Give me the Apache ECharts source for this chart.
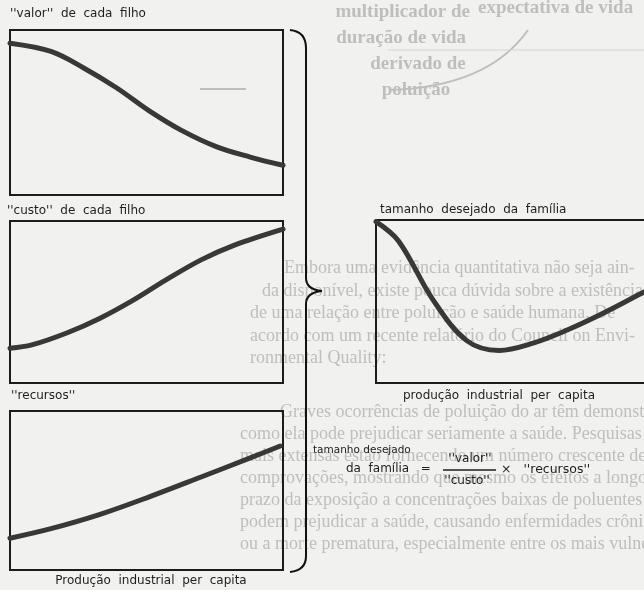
<!DOCTYPE html>
<html>
<head>
<meta charset="utf-8">
<script src="https://cdn.jsdelivr.net/npm/echarts@6/dist/echarts.min.js"></script>
<style>
  html, body { margin: 0; padding: 0; background: #f1f1ef; overflow: hidden; }
  #chart { width: 720px; height: 590px; }
</style>
</head>
<body>
<div id="chart"></div>
<script>
// Industrial output per capita (0–100, relative) sampled along each curve
const xValor = [0, 15, 27, 39, 51, 63, 76, 88, 100];
const valor = [92, 87, 77, 65, 51, 39, 29, 23, 18];

const xCusto = [0, 8, 21, 33, 45, 57, 70, 82, 100];
const custo = [21.5, 23.5, 31, 40, 51, 63.5, 76, 85, 95];

const xRecursos = [0, 15, 33, 51, 70, 88, 99];
const recursos = [20, 26, 35, 46, 58.5, 70.5, 78];

const xTamanho = [0, 7, 17.6, 28, 38, 48.5, 59, 69, 82, 88];
const tamanho = [99, 87, 51, 26, 20, 24.5, 32.5, 41.7, 55, 61];

// Panel captions and axis captions
const panelTitles = ["''valor''  de  cada  filho", "''custo''  de  cada  filho", "''recursos''", "tamanho  desejado  da  família"];
const axisTitle = "Produção  industrial  per  capita";
const axisTitleRight = "produção  industrial  per  capita";

const pairs = (xs, ys) => xs.map((x, i) => [x, ys[i]]);

const chart = echarts.init(document.getElementById('chart'), null, { renderer: 'canvas' });

const grids = [
  { left: 10, top: 30, width: 273, height: 165 },
  { left: 10, top: 221, width: 273, height: 162 },
  { left: 10, top: 411, width: 273, height: 159 },
  { left: 376, top: 220, width: 324, height: 163 }
].map(g => Object.assign(g, { show: true, borderColor: '#1c1c1c', borderWidth: 2, backgroundColor: 'transparent', z: 5 }));

const axisX = grids.map((g, i) => ({ gridIndex: i, type: 'value', min: 0, max: 100, show: false }));
const axisY = grids.map((g, i) => ({ gridIndex: i, type: 'value', min: 0, max: 100, show: false }));

const curve = (data, i) => ({
  type: 'line', xAxisIndex: i, yAxisIndex: i, data, smooth: 0.35,
  symbol: 'none', z: 6, lineStyle: { width: 5, color: '#383838', cap: 'round' }, silent: true
});

const labelFont = '"DejaVu Sans", sans-serif';
const ghostFont = '"Liberation Serif", "DejaVu Serif", serif';
const ink = '#1e1e1e';
const ghost = '#bebebc';

const txt = (text, x, y, opts = {}) => ({
  type: 'text', x, y, z: opts.z || 20, silent: true,
  style: Object.assign({ text, fill: ink, font: '12px ' + labelFont, textVerticalAlign: 'middle', textAlign: 'left' }, opts.style || {})
});

// Print from the other side of the sheet showing through the paper
const ghostLinesTop = [
  ['multiplicador de', 470, 12, 'right'],
  ['duração de vida', 466, 38, 'right'],
  ['derivado de', 418, 64, 'center'],
  ['poluição', 416, 90, 'center'],
  ['expectativa de vida', 478, 8, 'left'],
];
const ghostParagraph = [
  ['Embora uma evidência quantitativa não seja ain-', 284, 268],
  ['da disponível, existe pouca dúvida sobre a existência', 262, 291],
  ['de uma relação entre poluição e saúde humana. De', 250, 313],
  ['acordo com um recente relatório do Council on Envi-', 250, 336],
  ['ronmental Quality:', 250, 358],
  ['Graves ocorrências de poluição do ar têm demonstrado', 280, 412],
  ['como ela pode prejudicar seriamente a saúde. Pesquisas', 240, 434],
  ['mais extensas estão fornecendo um número crescente de', 240, 456],
  ['comprovações, mostrando que mesmo os efeitos a longo', 240, 478],
  ['prazo da exposição a concentrações baixas de poluentes', 240, 500],
  ['podem prejudicar a saúde, causando enfermidades crônicas', 240, 522],
  ['ou a morte prematura, especialmente entre os mais vulneráveis', 240, 544],
];

const graphics = [];
ghostLinesTop.forEach(([t, x, y, a]) => graphics.push(txt(t, x, y, { z: 1, style: { fill: ghost, font: 'bold 19px ' + ghostFont, textAlign: a } })));
ghostParagraph.forEach(([t, x, y]) => graphics.push(txt(t, x, y, { z: 1, style: { fill: ghost, font: '18px ' + ghostFont } })));
graphics.push({ type: 'bezierCurve', z: 1, silent: true, shape: { x1: 390, y1: 90, cpx1: 450, cpy1: 88, x2: 528, y2: 30, cpx2: 500, cpy2: 70 }, style: { stroke: ghost, lineWidth: 2, fill: null } });
graphics.push({ type: 'line', z: 1, silent: true, shape: { x1: 200, y1: 89, x2: 246, y2: 89 }, style: { stroke: ghost, lineWidth: 2 } });
graphics.push({ type: 'line', z: 1, silent: true, shape: { x1: 388, y1: 50, x2: 644, y2: 50 }, style: { stroke: '#d4d4d2', lineWidth: 1 } });

// Panel captions
graphics.push(txt(panelTitles[0], 10, 14));
graphics.push(txt(panelTitles[1], 7, 211));
graphics.push(txt(panelTitles[2], 11, 396));
graphics.push(txt(panelTitles[3], 380, 210));
graphics.push(txt(axisTitle, 151, 581, { style: { textAlign: 'center' } }));
graphics.push(txt(axisTitleRight, 499, 396, { style: { textAlign: 'center' } }));

// Formula: tamanho desejado da família = "valor"/"custo" × "recursos"
graphics.push(txt('tamanho desejado', 313, 450, { style: { font: '10.5px ' + labelFont } }));
graphics.push(txt('da  família   =', 346, 469));
graphics.push(txt("''valor''", 470, 459, { style: { textAlign: 'center' } }));
graphics.push({ type: 'line', z: 20, silent: true, shape: { x1: 443, y1: 470, x2: 496, y2: 470 }, style: { stroke: ink, lineWidth: 1.3 } });
graphics.push(txt("''custo''", 467, 481, { style: { textAlign: 'center' } }));
graphics.push(txt("×   ''recursos''", 501, 470, { style: { font: '12.5px ' + labelFont } }));

// Curly brace joining the three left panels to the result panel
const braceStyle = { stroke: '#111', lineWidth: 2, fill: null };
const bez = (x1, y1, c1x, c1y, c2x, c2y, x2, y2) => ({ type: 'bezierCurve', z: 20, silent: true, shape: { x1, y1, cpx1: c1x, cpy1: c1y, cpx2: c2x, cpy2: c2y, x2, y2 }, style: braceStyle });
const seg = (x1, y1, x2, y2) => ({ type: 'line', z: 20, silent: true, shape: { x1, y1, x2, y2 }, style: braceStyle });
graphics.push(bez(290, 30, 300, 31, 306, 37, 306, 48));
graphics.push(seg(306, 48, 306, 278));
graphics.push(bez(306, 278, 306, 286, 312, 290, 322, 291));
graphics.push(bez(322, 291, 312, 292, 306, 296, 306, 304));
graphics.push(seg(306, 304, 306, 556));
graphics.push(bez(306, 556, 306, 566, 300, 571, 290, 572));

chart.setOption({
  animation: false,
  backgroundColor: '#f1f1ef',
  grid: grids,
  xAxis: axisX,
  yAxis: axisY,
  series: [
    curve(pairs(xValor, valor), 0),
    curve(pairs(xCusto, custo), 1),
    curve(pairs(xRecursos, recursos), 2),
    curve(pairs(xTamanho, tamanho), 3)
  ],
  graphic: { elements: graphics }
});
</script>
</body>
</html>
